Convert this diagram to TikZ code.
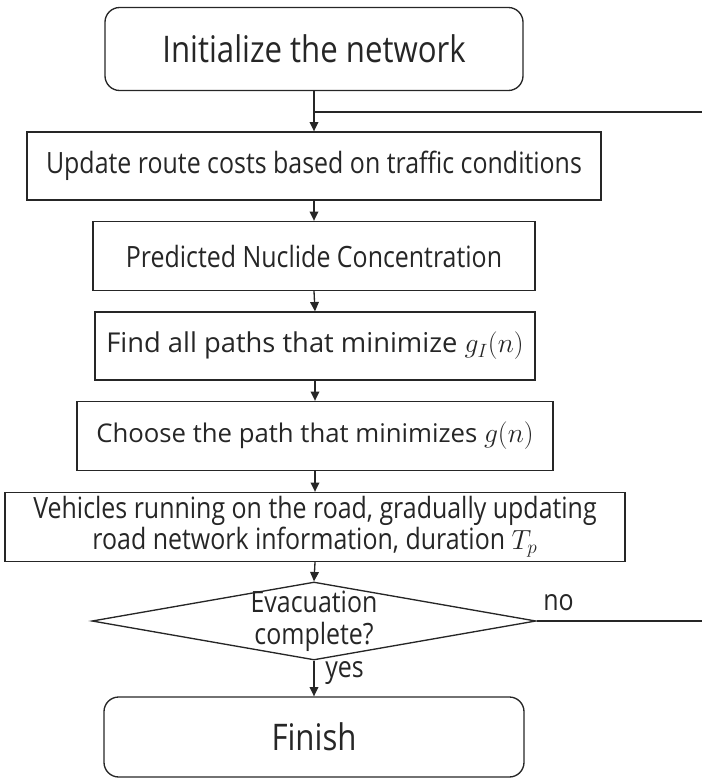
\documentclass[tikz,border=0pt]{standalone}
\usepackage{fontspec}
\setmainfont{Open Sans}[FakeStretch=0.85]
\newfontfamily\widefont{Open Sans}
\usetikzlibrary{shapes.geometric,arrows.meta}
\begin{document}
\begin{tikzpicture}[x=0.75pt,y=-0.75pt,
  box/.style={draw=black!85, line width=1pt, inner sep=0pt, align=center, text=black!85,
              font=\fontsize{22}{21.5}\selectfont},
  term/.style={box, rounded corners=11pt, font=\fontsize{27.5}{30}\selectfont},
  widebox/.style={box, font=\widefont\fontsize{20.5}{22}\selectfont},
  arr/.style={draw=black!85, line width=1pt, -{Triangle[length=7pt,width=6.5pt]}},
  ln/.style={draw=black!85, line width=1pt},
  lbl/.style={inner sep=0pt, text=black!85, font=\fontsize{22}{24}\selectfont}]
\useasboundingbox (0,0) rectangle (702,779);

\node[term, minimum width=313.5pt, minimum height=62.25pt] (init) at (314,49) {Initialize the network};
\node[box, minimum width=430.5pt, minimum height=51pt] (b2) at (314,166) {Update route costs based on traffic conditions};
\node[box, minimum width=331.5pt, minimum height=51.75pt] (b3) at (314,256) {Predicted Nuclide Concentration};
\node[widebox, minimum width=330pt, minimum height=51pt] (b4) at (315,346) {Find all paths that minimize $g_I(n)$};
\node[widebox, minimum width=357pt, minimum height=51.75pt, font=\widefont\fontsize{19.3}{22}\selectfont] (b5) at (315,436) {Choose the path that minimizes $g(n)$};
\node[box, minimum width=465pt, minimum height=51.75pt] (b6) at (315,527) {Vehicles running on the road, gradually updating\\road network information, duration $T_p$};
\node[draw=black!85, line width=1pt, diamond, inner sep=0pt, minimum width=333pt, minimum height=58.5pt] (dia) at (314,621) {};
\node[lbl, align=center] (diatext) at (dia.center) {Evacuation\\complete?};
\node[term, minimum width=315pt, minimum height=60pt] (fin) at (314,737) {Finish};

\coordinate (j1) at (init.south |- 0,112);
\coordinate (e1) at (702,112);
\coordinate (e2) at (702,621);

\draw[arr] (init.south) -- (b2.north);
\draw[ln] (j1) -- (e1);
\draw[arr] (b2.south) -- (b3.north);
\draw[arr] (b3.south) -- (b4.north);
\draw[arr] (b4.south) -- (b5.north);
\draw[arr] (b5.south) -- (b6.north);
\draw[arr] (b6.south) -- (dia.north);
\draw[ln] (dia.east) -- (e2);
\draw[arr] (dia.south) -- (fin.north);

\node[lbl, anchor=west] (no) at (543,603) {no};
\node[lbl, anchor=west] (yes) at (325,673) {yes};
\end{tikzpicture}
\end{document}
